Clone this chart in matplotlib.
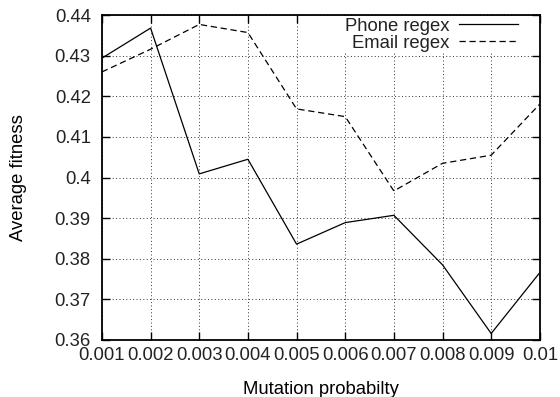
import matplotlib
matplotlib.use("Agg")
import matplotlib.pyplot as plt

# mutation probability vs average fitness
mutation = [0.001, 0.002, 0.003, 0.004, 0.005, 0.006, 0.007, 0.008, 0.009, 0.01]
phone = [0.4294, 0.4368, 0.4009, 0.4045, 0.3836, 0.3889, 0.3907, 0.3785, 0.3616, 0.3766]
email = [0.4260, 0.4316, 0.4377, 0.4357, 0.4169, 0.4150, 0.3967, 0.4035, 0.4055, 0.4181]
xticklabels = ["0.001", "0.002", "0.003", "0.004", "0.005", "0.006", "0.007", "0.008", "0.009", "0.01"]
yticks = [0.36, 0.37, 0.38, 0.39, 0.40, 0.41, 0.42, 0.43, 0.44]
yticklabels = ["0.36", "0.37", "0.38", "0.39", "0.4", "0.41", "0.42", "0.43", "0.44"]

plt.rcParams['font.family'] = ['Liberation Sans', 'DejaVu Sans']
plt.rcParams['font.size'] = 13.3
plt.rcParams['text.color'] = '#222222'
plt.rcParams['xtick.labelcolor'] = '#222222'
plt.rcParams['ytick.labelcolor'] = '#222222'

fig = plt.figure(figsize=(5.6, 3.97), dpi=100)
ax = fig.add_axes([0.182, 0.1436, 0.782, 0.8184])

ax.plot(mutation, phone, color='black', linewidth=0.9, label='Phone regex')
ax.plot(mutation, email, color='black', linewidth=0.9, linestyle=(0, (5, 3)), label='Email regex')

ax.set_xlim(0.001, 0.01)
ax.set_ylim(0.36, 0.44)
ax.set_xticks(mutation)
ax.set_xticklabels(xticklabels)
ax.set_yticks(yticks)
ax.set_yticklabels(yticklabels)

ax.grid(True, color='#333333', linestyle=(0, (1, 2.5)), linewidth=0.7)
ax.tick_params(direction='in', length=6, width=1, top=True, right=True)
ax.tick_params(axis='x', pad=5)
ax.tick_params(axis='y', pad=8)
for s in ax.spines.values():
    s.set_linewidth(1.3)

ax.set_xlabel("Mutation probabilty", labelpad=12)
ax.set_ylabel("Average fitness", labelpad=20)

leg = ax.legend(loc='upper right', bbox_to_anchor=(0.955, 0.998), markerfirst=False,
                frameon=True, fancybox=False, edgecolor='none', facecolor='white',
                framealpha=1, handlelength=3.2, borderaxespad=0, labelspacing=0.0,
                borderpad=0.1, handletextpad=0.55)
for t in leg.get_texts():
    t.set_ha('right')

fig.savefig("out.png", dpi=100)
